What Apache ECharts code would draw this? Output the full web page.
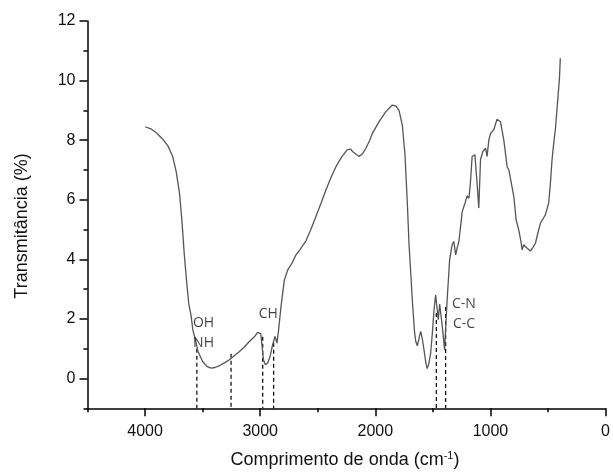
<!DOCTYPE html>
<html>
<head>
<meta charset="utf-8">
<script src="https://cdn.jsdelivr.net/npm/echarts@6/dist/echarts.min.js"></script>
<style>
html,body{margin:0;padding:0;background:#fff;}
#chart{width:613px;height:473px;}
</style>
</head>
<body>
<div id="chart"></div>
<script>
// Spectrum: wavenumber (cm-1) and transmittance (%)
var wavenumber = [4000,3950,3900,3850,3800,3760,3730,3700,3680,3660,3640,3620,3600,3585,3560,3540,3500,3460,3426,3390,3354,3300,3267,3220,3180,3140,3094,3050,3022,3005,2995,2984,2972,2955,2935,2914,2892,2871,2862,2854,2840,2819,2790,2760,2720,2689,2650,2602,2560,2516,2470,2429,2385,2342,2290,2242,2215,2198,2165,2140,2110,2082,2050,2025,1967,1910,1852,1820,1794,1765,1742,1722,1707,1690,1678,1660,1649,1635,1620,1606,1590,1577,1560,1549,1535,1519,1505,1490,1476,1462,1453,1441,1432,1418,1398,1389,1375,1354,1332,1318,1302,1288,1274,1245,1220,1202,1187,1175,1159,1135,1115,1101,1086,1066,1042,1029,1014,999,971,955,942,913,884,855,840,826,797,777,754,735,725,711,695,682,653,630,609,590,566,523,494,480,465,450,436,413,400,393];
var transmittance = [8.45,8.38,8.24,8.05,7.8,7.45,6.95,6.2,5.3,4.2,3.3,2.5,2.1,1.63,1.25,0.91,0.57,0.4,0.35,0.37,0.43,0.55,0.63,0.78,0.91,1.05,1.24,1.4,1.55,1.58,1.5,1.1,0.63,0.46,0.52,0.74,1.13,1.41,1.3,1.19,1.63,2.42,3.31,3.65,3.9,4.15,4.35,4.62,5.0,5.44,5.9,6.33,6.75,7.11,7.45,7.68,7.7,7.62,7.52,7.45,7.55,7.73,7.98,8.23,8.62,8.95,9.18,9.14,9.0,8.5,7.5,5.9,4.5,3.4,2.6,1.6,1.25,1.1,1.35,1.58,1.3,0.96,0.5,0.33,0.5,0.85,1.5,2.3,2.8,2.3,1.97,2.5,2.53,1.74,0.96,1.7,2.7,4.0,4.5,4.6,4.15,4.4,4.6,5.6,5.9,6.13,6.05,6.5,7.45,7.51,6.5,5.72,7.35,7.62,7.73,7.45,8.0,8.23,8.35,8.55,8.7,8.62,8.01,7.11,7.0,7.0,6.11,5.33,4.99,4.6,4.32,4.49,4.42,4.43,4.28,4.4,4.54,4.85,5.21,5.49,5.89,6.5,7.34,7.9,8.35,9.46,10.1,10.75];

// Dashed marker lines (band positions) and their upper ends
var bandX = [3550, 3253, 2978, 2883, 1470, 1389];
var bandTop = [1.0, 0.83, 1.4, 1.2, 2.2, 2.4];

// Band annotations
var annotText = ['OH', 'NH', 'CH', 'C-N', 'C-C'];
var annotX = [3492, 3492, 2929, 1230, 1230];
var annotY = [1.87, 1.18, 2.17, 2.5, 1.82];

// Tick values
var xMajorTicks = [0, 1000, 2000, 3000, 4000];
var xMinorTicks = [500, 1500, 2500, 3500, 4500];
var yMajorTicks = [0, 2, 4, 6, 8, 10, 12];
var yMinorTicks = [-1, 1, 3, 5, 7, 9, 11];

var spectrum = wavenumber.map(function (w, i) { return [w, transmittance[i]]; });

var series = [{
  type: 'line',
  data: spectrum,
  showSymbol: false,
  symbol: 'none',
  lineStyle: { color: '#555555', width: 1.3 },
  silent: true,
  animation: false,
  z: 3
}];

bandX.forEach(function (x, i) {
  series.push({
    type: 'line',
    data: [[x, bandTop[i]], [x, -1]],
    symbol: 'none',
    lineStyle: { color: '#000', width: 1.2, type: [4, 3] },
    silent: true,
    animation: false,
    z: 2
  });
});

series.push({
  type: 'scatter',
  data: annotText.map(function (t, i) { return [annotX[i], annotY[i], t]; }),
  symbolSize: 0,
  silent: true,
  animation: false,
  label: {
    show: true,
    position: 'inside',
    formatter: function (p) { return p.value[2]; },
    fontFamily: 'Open Sans',
    fontSize: 14,
    color: '#111'
  },
  z: 4
});

var axisFont = { fontFamily: 'Liberation Sans', fontSize: 16, color: '#111' };
var plain = function (v) { return String(v); };

var option = {
  animation: false,
  backgroundColor: '#fff',
  grid: { left: 87.5, right: 6, top: 21, bottom: 64.7 },
  xAxis: [{
    type: 'value', min: 0, max: 4500, inverse: true, position: 'bottom',
    axisLine: { show: true, onZero: false, lineStyle: { color: '#000', width: 1.5 } },
    axisTick: { show: true, inside: false, length: 8, customValues: xMajorTicks, lineStyle: { color: '#000', width: 1.5 } },
    axisLabel: Object.assign({ customValues: xMajorTicks, margin: 15, formatter: plain }, axisFont),
    splitLine: { show: false }
  }, {
    type: 'value', min: 0, max: 4500, inverse: true, position: 'bottom',
    axisLine: { show: false, onZero: false },
    axisTick: { show: true, inside: false, length: 4, customValues: xMinorTicks, lineStyle: { color: '#000', width: 1.5 } },
    axisLabel: { show: false },
    splitLine: { show: false }
  }],
  yAxis: [{
    type: 'value', min: -1, max: 12, position: 'left',
    axisLine: { show: true, onZero: false, lineStyle: { color: '#000', width: 1.5 } },
    axisTick: { show: true, inside: false, length: 8, customValues: yMajorTicks, lineStyle: { color: '#000', width: 1.5 } },
    axisLabel: Object.assign({ customValues: yMajorTicks, margin: 12, formatter: plain }, axisFont),
    splitLine: { show: false }
  }, {
    type: 'value', min: -1, max: 12, position: 'left', offset: 0,
    axisLine: { show: false, onZero: false },
    axisTick: { show: true, inside: false, length: 4, customValues: yMinorTicks, lineStyle: { color: '#000', width: 1.5 } },
    axisLabel: { show: false },
    splitLine: { show: false }
  }],
  series: series,
  graphic: [{
    type: 'text',
    x: 21.7, y: 226,
    rotation: Math.PI / 2,
    style: {
      text: 'Transmitância (%)',
      fontFamily: 'Liberation Sans', fontSize: 18, fill: '#111',
      align: 'center', verticalAlign: 'middle'
    }
  }, {
    type: 'text',
    x: 345, y: 460,
    style: {
      text: 'Comprimento de onda (cm{sup|-1})',
      fontFamily: 'Liberation Sans', fontSize: 18, fill: '#111',
      align: 'center', verticalAlign: 'middle',
      rich: {
        sup: { fontFamily: 'Liberation Sans', fontSize: 11, fill: '#111', padding: [0, 0, 9, 0] }
      }
    }
  }]
};

var chart = echarts.init(document.getElementById('chart'), null, { renderer: 'canvas' });
chart.setOption(option);
</script>
</body>
</html>
